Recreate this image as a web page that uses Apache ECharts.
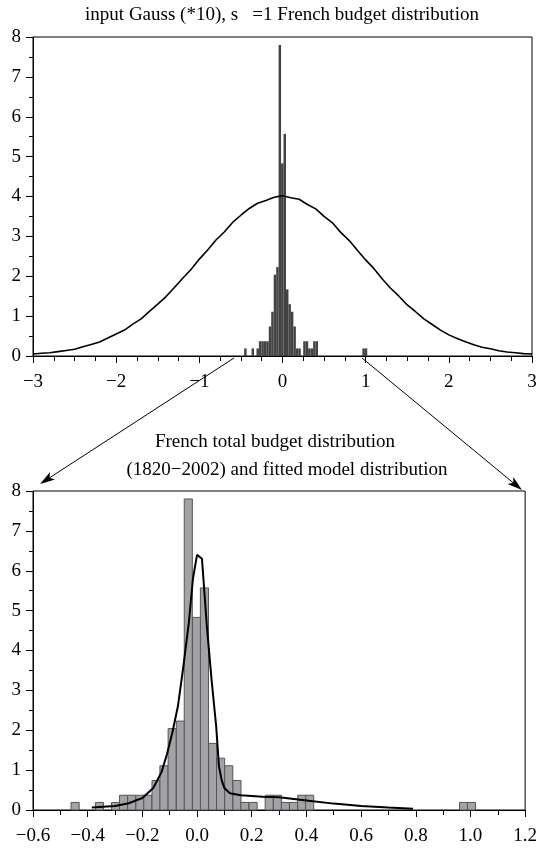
<!DOCTYPE html>
<html><head><meta charset="utf-8">
<script src="https://cdn.jsdelivr.net/npm/echarts@6/dist/echarts.min.js"></script>
<style>html,body{margin:0;padding:0;background:#fff}#c{width:540px;height:848px}</style>
</head><body><div id="c"></div>
<script>
// Histogram of French budget (1820-2002): bin centres and densities
const binWidth = 0.0296;
const binCenters = [-0.446, -0.357, -0.298, -0.269, -0.239, -0.209, -0.180, -0.150, -0.121, -0.091, -0.061, -0.032, -0.002, 0.027, 0.057, 0.086, 0.116, 0.146, 0.175, 0.205, 0.264, 0.294, 0.323, 0.353, 0.383, 0.412, 0.975, 1.004];
const binHeights = [0.19, 0.19, 0.19, 0.37, 0.37, 0.37, 0.37, 0.74, 1.11, 2.04, 2.23, 7.80, 4.83, 5.57, 1.67, 1.30, 1.11, 0.74, 0.19, 0.19, 0.37, 0.37, 0.19, 0.19, 0.37, 0.37, 0.19, 0.19];

// input Gauss (*10) curve
const gaussX = [-3.0,-2.9,-2.8,-2.7,-2.6,-2.5,-2.4,-2.3,-2.2,-2.1,-2.0,-1.9,-1.8,-1.7,-1.6,-1.5,-1.4,-1.3,-1.2,-1.1,-1.0,-0.9,-0.8,-0.7,-0.6,-0.5,-0.4,-0.3,-0.2,-0.1,0.0,0.1,0.2,0.3,0.4,0.5,0.6,0.7,0.8,0.9,1.0,1.1,1.2,1.3,1.4,1.5,1.6,1.7,1.8,1.9,2.0,2.1,2.2,2.3,2.4,2.5,2.6,2.7,2.8,2.9,3.0];
const gaussY = [0.05,0.07,0.08,0.11,0.14,0.17,0.23,0.29,0.35,0.45,0.55,0.65,0.80,0.93,1.12,1.30,1.49,1.72,1.95,2.17,2.43,2.66,2.91,3.11,3.35,3.53,3.70,3.83,3.90,3.98,4.02,3.97,3.93,3.80,3.69,3.50,3.34,3.10,2.90,2.65,2.41,2.19,1.93,1.70,1.50,1.28,1.11,0.93,0.79,0.65,0.53,0.44,0.36,0.28,0.22,0.18,0.13,0.10,0.08,0.06,0.05];

// fitted model distribution
const fitX = [-0.385,-0.30,-0.25,-0.20,-0.16,-0.13,-0.11,-0.09,-0.07,-0.05,-0.03,-0.015,0.0,0.018,0.036,0.054,0.07,0.08,0.09,0.10,0.12,0.16,0.24,0.30,0.40,0.50,0.60,0.70,0.79];
const fitY = [0.06,0.10,0.17,0.30,0.55,0.95,1.40,1.95,2.60,3.60,4.70,5.80,6.40,6.30,4.60,3.20,2.10,1.10,0.75,0.55,0.42,0.37,0.33,0.32,0.24,0.16,0.10,0.06,0.03];

const topXTicks = [-3, -2, -1, 0, 1, 2, 3];
const bottomXTicks = [-0.6, -0.4, -0.2, 0.0, 0.2, 0.4, 0.6, 0.8, 1.0, 1.2];
const yTicks = [0, 1, 2, 3, 4, 5, 6, 7, 8];

const titleTop = 'input Gauss (*10), s   =1 French budget distribution';
const titleBottom1 = 'French total budget distribution';
const titleBottom2 = '(1820\u22122002) and fitted model distribution';

const FONT = '"Liberation Serif", "Times New Roman", serif';
const FS = 19;
const minus = s => String(s).replace('-', '\u2212');

const chart = echarts.init(document.getElementById('c'), null, {renderer: 'canvas'});

function barRenderer(fill, stroke) {
  return function (params, api) {
    const c = api.value(0), h = api.value(1);
    const p0 = api.coord([c - binWidth / 2, h]);
    const p1 = api.coord([c + binWidth / 2, 0]);
    return {
      type: 'rect',
      shape: {x: p0[0], y: p0[1], width: p1[0] - p0[0], height: p1[1] - p0[1]},
      style: stroke ? {fill: fill, stroke: stroke, lineWidth: 1} : {fill: fill}
    };
  };
}

const histData = binCenters.map((c, i) => [c, binHeights[i]]);
const gaussData = gaussX.map((x, i) => [x, gaussY[i]]);
const fitData = fitX.map((x, i) => [x, fitY[i]]);

function xAxisCfg(gi, ticks, fmt, minorSplit) {
  return {
    type: 'value', gridIndex: gi,
    min: ticks[0], max: ticks[ticks.length - 1],
    interval: Math.round((ticks[1] - ticks[0]) * 10) / 10,
    axisLine: {onZero: false, lineStyle: {color: '#000', width: 1}},
    axisTick: {length: 7, lineStyle: {color: '#000'}},
    minorTick: {show: true, splitNumber: minorSplit, length: 5, lineStyle: {color: '#000'}},
    splitLine: {show: false},
    axisLabel: {color: '#000', fontFamily: FONT, fontSize: FS, margin: 17, formatter: fmt, showMinLabel: true, showMaxLabel: true}
  };
}
function yAxisCfg(gi) {
  return {
    type: 'value', gridIndex: gi, min: yTicks[0], max: yTicks[yTicks.length - 1], interval: 1,
    axisLine: {onZero: false, lineStyle: {color: '#000', width: 1}},
    axisTick: {length: 7, lineStyle: {color: '#000'}},
    minorTick: {show: true, splitNumber: 2, length: 4, lineStyle: {color: '#000'}},
    splitLine: {show: false},
    axisLabel: {color: '#000', fontFamily: FONT, fontSize: FS, margin: 12}
  };
}

function arrow(x1, y1, x2, y2) {
  const dx = x2 - x1, dy = y2 - y1, L = Math.hypot(dx, dy);
  const ux = dx / L, uy = dy / L, nx = -uy, ny = ux;
  const hl = 15, hw = 4.5;
  return [
    {type: 'line', shape: {x1: x1, y1: y1, x2: x2 - ux * hl * 0.6, y2: y2 - uy * hl * 0.6}, style: {stroke: '#000', lineWidth: 1}, z: 100},
    {type: 'polygon', shape: {points: [[x2, y2], [x2 - ux * hl + nx * hw, y2 - uy * hl + ny * hw], [x2 - ux * hl * 0.75, y2 - uy * hl * 0.75], [x2 - ux * hl - nx * hw, y2 - uy * hl - ny * hw]]}, style: {fill: '#000'}, z: 100}
  ];
}

const option = {
  backgroundColor: '#fff',
  animation: false,
  grid: [
    {left: 33, width: 499, top: 37, height: 319, show: true, borderColor: '#000', borderWidth: 1, containLabel: false},
    {left: 33, width: 499, top: 491, height: 319, show: true, borderColor: '#000', borderWidth: 1, containLabel: false}
  ],
  xAxis: [
    xAxisCfg(0, topXTicks, v => minus(v), 4),
    xAxisCfg(1, bottomXTicks, v => minus(v.toFixed(1)), 2)
  ],
  yAxis: [yAxisCfg(0), yAxisCfg(1)],
  series: [
    {type: 'custom', xAxisIndex: 0, yAxisIndex: 0, renderItem: barRenderer('#434343', null), data: histData, encode: {x: 0, y: 1}, z: 2},
    {type: 'line', xAxisIndex: 0, yAxisIndex: 0, data: gaussData, showSymbol: false, symbol: 'none', lineStyle: {color: '#000', width: 1.6}, z: 3},
    {type: 'custom', xAxisIndex: 1, yAxisIndex: 1, renderItem: barRenderer('#a3a2a7', '#555'), data: histData, encode: {x: 0, y: 1}, z: 2},
    {type: 'line', xAxisIndex: 1, yAxisIndex: 1, data: fitData, showSymbol: false, symbol: 'none', lineStyle: {color: '#000', width: 2}, z: 3}
  ],
  graphic: [
    {type: 'text', x: 282, y: 15, style: {text: titleTop, fontFamily: FONT, fontSize: FS, fill: '#000', align: 'center', verticalAlign: 'middle'}},
    {type: 'text', x: 275, y: 442, style: {text: titleBottom1, fontFamily: FONT, fontSize: FS, fill: '#000', align: 'center', verticalAlign: 'middle'}},
    {type: 'text', x: 287, y: 470, style: {text: titleBottom2, fontFamily: FONT, fontSize: FS, fill: '#000', align: 'center', verticalAlign: 'middle'}}
  ].concat(arrow(234, 358, 40, 484), arrow(362, 358, 522, 490))
};
chart.setOption(option);
</script>
</body></html>
